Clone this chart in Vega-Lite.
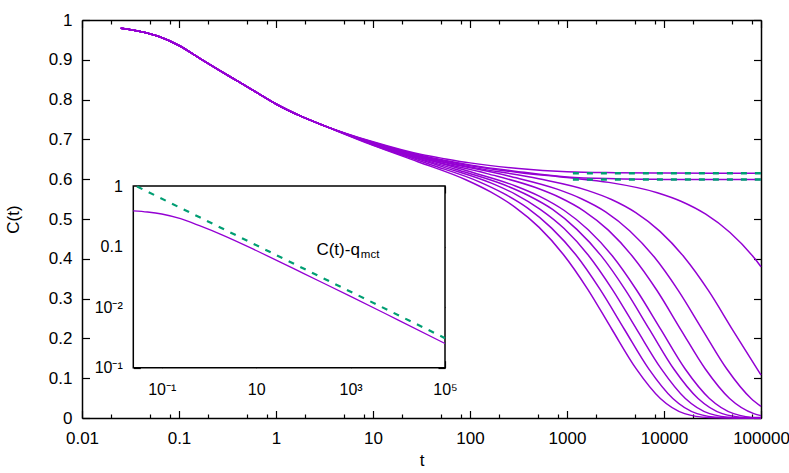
{
  "$schema": "https://vega.github.io/schema/vega-lite/v6.json",
  "width": 679,
  "height": 398,
  "autosize": {"type": "none"},
  "padding": {"left": 82, "top": 20, "right": 28, "bottom": 55},
  "background": "white",
  "config": {
    "view": {"stroke": null},
    "axis": {"grid": false, "labelFont": "Liberation Sans", "titleFont": "Liberation Sans", "labelFontSize": 17, "titleFontSize": 17, "titleFontWeight": "normal", "labelColor": "#000", "titleColor": "#000", "domainColor": "#000", "tickColor": "#000", "domainWidth": 1.5, "tickWidth": 1.2, "labelFlush": false, "labelOverlap": false, "zindex": 1},
    "text": {"font": "Liberation Sans"}
  },
  "datasets": {
    "main": [
      {"s":"c1","t":0.0251,"C":0.979},{"s":"c1","t":0.0398,"C":0.971},{"s":"c1","t":0.0631,"C":0.958},{"s":"c1","t":0.1,"C":0.936},{"s":"c1","t":0.158,"C":0.906},{"s":"c1","t":0.251,"C":0.876},{"s":"c1","t":0.398,"C":0.847},{"s":"c1","t":0.631,"C":0.818},{"s":"c1","t":1,"C":0.789},{"s":"c1","t":1.778,"C":0.759},{"s":"c1","t":3.162,"C":0.734},
      {"s":"c1","t":10,"C":0.685},{"s":"c1","t":29,"C":0.644},{"s":"c1","t":91.7,"C":0.598},{"s":"c1","t":163,"C":0.568},{"s":"c1","t":290,"C":0.530},{"s":"c1","t":516,"C":0.479},{"s":"c1","t":917,"C":0.411},{"s":"c1","t":1631,"C":0.324},{"s":"c1","t":2900,"C":0.223},{"s":"c1","t":5157,"C":0.124},{"s":"c1","t":9170,"C":0.049},{"s":"c1","t":16307,"C":0.011},{"s":"c1","t":29000,"C":0.001},{"s":"c1","t":51570,"C":0},{"s":"c1","t":100000,"C":0},
      {"s":"c2","t":0.0251,"C":0.979},{"s":"c2","t":0.0398,"C":0.971},{"s":"c2","t":0.0631,"C":0.958},{"s":"c2","t":0.1,"C":0.936},{"s":"c2","t":0.158,"C":0.906},{"s":"c2","t":0.251,"C":0.876},{"s":"c2","t":0.398,"C":0.847},{"s":"c2","t":0.631,"C":0.818},{"s":"c2","t":1,"C":0.789},{"s":"c2","t":1.778,"C":0.759},{"s":"c2","t":3.162,"C":0.734},
      {"s":"c2","t":10,"C":0.686},{"s":"c2","t":39,"C":0.637},{"s":"c2","t":123,"C":0.594},{"s":"c2","t":219,"C":0.565},{"s":"c2","t":390,"C":0.528},{"s":"c2","t":694,"C":0.477},{"s":"c2","t":1233,"C":0.410},{"s":"c2","t":2193,"C":0.323},{"s":"c2","t":3900,"C":0.223},{"s":"c2","t":6935,"C":0.124},{"s":"c2","t":12333,"C":0.049},{"s":"c2","t":21930,"C":0.011},{"s":"c2","t":39000,"C":0.001},{"s":"c2","t":69350,"C":0},{"s":"c2","t":100000,"C":0},
      {"s":"c3","t":0.0251,"C":0.979},{"s":"c3","t":0.0398,"C":0.971},{"s":"c3","t":0.0631,"C":0.958},{"s":"c3","t":0.1,"C":0.936},{"s":"c3","t":0.158,"C":0.906},{"s":"c3","t":0.251,"C":0.876},{"s":"c3","t":0.398,"C":0.847},{"s":"c3","t":0.631,"C":0.818},{"s":"c3","t":1,"C":0.789},{"s":"c3","t":1.778,"C":0.759},{"s":"c3","t":3.162,"C":0.734},
      {"s":"c3","t":10,"C":0.687},{"s":"c3","t":52.5,"C":0.631},{"s":"c3","t":166,"C":0.590},{"s":"c3","t":295,"C":0.562},{"s":"c3","t":525,"C":0.525},{"s":"c3","t":934,"C":0.476},{"s":"c3","t":1660,"C":0.409},{"s":"c3","t":2952,"C":0.322},{"s":"c3","t":5250,"C":0.222},{"s":"c3","t":9336,"C":0.124},{"s":"c3","t":16600,"C":0.049},{"s":"c3","t":29520,"C":0.011},{"s":"c3","t":52500,"C":0.001},{"s":"c3","t":100000,"C":0},
      {"s":"c4","t":0.0251,"C":0.979},{"s":"c4","t":0.0398,"C":0.971},{"s":"c4","t":0.0631,"C":0.958},{"s":"c4","t":0.1,"C":0.936},{"s":"c4","t":0.158,"C":0.906},{"s":"c4","t":0.251,"C":0.876},{"s":"c4","t":0.398,"C":0.847},{"s":"c4","t":0.631,"C":0.818},{"s":"c4","t":1,"C":0.789},{"s":"c4","t":1.778,"C":0.759},{"s":"c4","t":3.162,"C":0.734},
      {"s":"c4","t":10,"C":0.688},{"s":"c4","t":71,"C":0.625},{"s":"c4","t":224.5,"C":0.586},{"s":"c4","t":399,"C":0.559},{"s":"c4","t":710,"C":0.524},{"s":"c4","t":1263,"C":0.474},{"s":"c4","t":2245,"C":0.408},{"s":"c4","t":3993,"C":0.322},{"s":"c4","t":7100,"C":0.222},{"s":"c4","t":12626,"C":0.123},{"s":"c4","t":22452,"C":0.049},{"s":"c4","t":39925,"C":0.011},{"s":"c4","t":71000,"C":0.001},{"s":"c4","t":100000,"C":0},
      {"s":"c5","t":0.0251,"C":0.979},{"s":"c5","t":0.0398,"C":0.971},{"s":"c5","t":0.0631,"C":0.958},{"s":"c5","t":0.1,"C":0.936},{"s":"c5","t":0.158,"C":0.906},{"s":"c5","t":0.251,"C":0.876},{"s":"c5","t":0.398,"C":0.847},{"s":"c5","t":0.631,"C":0.818},{"s":"c5","t":1,"C":0.789},{"s":"c5","t":1.778,"C":0.759},{"s":"c5","t":3.162,"C":0.734},
      {"s":"c5","t":10,"C":0.689},{"s":"c5","t":93,"C":0.621},{"s":"c5","t":294,"C":0.583},{"s":"c5","t":523,"C":0.557},{"s":"c5","t":930,"C":0.522},{"s":"c5","t":1654,"C":0.473},{"s":"c5","t":2941,"C":0.407},{"s":"c5","t":5230,"C":0.321},{"s":"c5","t":9300,"C":0.222},{"s":"c5","t":16538,"C":0.123},{"s":"c5","t":29409,"C":0.049},{"s":"c5","t":52296,"C":0.011},{"s":"c5","t":93000,"C":0.001},{"s":"c5","t":100000,"C":0.001},
      {"s":"c6","t":0.0251,"C":0.979},{"s":"c6","t":0.0398,"C":0.971},{"s":"c6","t":0.0631,"C":0.958},{"s":"c6","t":0.1,"C":0.936},{"s":"c6","t":0.158,"C":0.906},{"s":"c6","t":0.251,"C":0.876},{"s":"c6","t":0.398,"C":0.847},{"s":"c6","t":0.631,"C":0.818},{"s":"c6","t":1,"C":0.789},{"s":"c6","t":1.778,"C":0.759},{"s":"c6","t":3.162,"C":0.734},
      {"s":"c6","t":10,"C":0.690},{"s":"c6","t":31.6,"C":0.653},{"s":"c6","t":150,"C":0.614},{"s":"c6","t":474,"C":0.579},{"s":"c6","t":843,"C":0.554},{"s":"c6","t":1500,"C":0.520},{"s":"c6","t":2667,"C":0.472},{"s":"c6","t":4743,"C":0.406},{"s":"c6","t":8435,"C":0.321},{"s":"c6","t":15000,"C":0.221},{"s":"c6","t":26674,"C":0.123},{"s":"c6","t":47434,"C":0.049},{"s":"c6","t":84350,"C":0.011},{"s":"c6","t":100000,"C":0.006},
      {"s":"c7","t":0.0251,"C":0.979},{"s":"c7","t":0.0398,"C":0.971},{"s":"c7","t":0.0631,"C":0.958},{"s":"c7","t":0.1,"C":0.936},{"s":"c7","t":0.158,"C":0.906},{"s":"c7","t":0.251,"C":0.876},{"s":"c7","t":0.398,"C":0.847},{"s":"c7","t":0.631,"C":0.818},{"s":"c7","t":1,"C":0.789},{"s":"c7","t":1.778,"C":0.759},{"s":"c7","t":3.162,"C":0.734},
      {"s":"c7","t":10,"C":0.691},{"s":"c7","t":31.6,"C":0.655},{"s":"c7","t":250,"C":0.608},{"s":"c7","t":791,"C":0.575},{"s":"c7","t":1406,"C":0.551},{"s":"c7","t":2500,"C":0.518},{"s":"c7","t":4446,"C":0.470},{"s":"c7","t":7906,"C":0.405},{"s":"c7","t":14058,"C":0.320},{"s":"c7","t":25000,"C":0.221},{"s":"c7","t":44457,"C":0.123},{"s":"c7","t":79057,"C":0.049},{"s":"c7","t":100000,"C":0.029},
      {"s":"c8","t":0.0251,"C":0.979},{"s":"c8","t":0.0398,"C":0.971},{"s":"c8","t":0.0631,"C":0.958},{"s":"c8","t":0.1,"C":0.936},{"s":"c8","t":0.158,"C":0.906},{"s":"c8","t":0.251,"C":0.876},{"s":"c8","t":0.398,"C":0.847},{"s":"c8","t":0.631,"C":0.818},{"s":"c8","t":1,"C":0.789},{"s":"c8","t":1.778,"C":0.759},{"s":"c8","t":3.162,"C":0.734},
      {"s":"c8","t":10,"C":0.691},{"s":"c8","t":31.6,"C":0.656},{"s":"c8","t":100,"C":0.631},{"s":"c8","t":512,"C":0.601},{"s":"c8","t":1617,"C":0.572},{"s":"c8","t":2877,"C":0.549},{"s":"c8","t":5115,"C":0.516},{"s":"c8","t":9095,"C":0.469},{"s":"c8","t":16175,"C":0.404},{"s":"c8","t":28763,"C":0.320},{"s":"c8","t":51150,"C":0.221},{"s":"c8","t":100000,"C":0.108},
      {"s":"c9","t":0.0251,"C":0.979},{"s":"c9","t":0.0398,"C":0.971},{"s":"c9","t":0.0631,"C":0.958},{"s":"c9","t":0.1,"C":0.936},{"s":"c9","t":0.158,"C":0.906},{"s":"c9","t":0.251,"C":0.876},{"s":"c9","t":0.398,"C":0.847},{"s":"c9","t":0.631,"C":0.818},{"s":"c9","t":1,"C":0.789},{"s":"c9","t":1.778,"C":0.759},{"s":"c9","t":3.162,"C":0.734},
      {"s":"c9","t":10,"C":0.692},{"s":"c9","t":31.6,"C":0.6575},{"s":"c9","t":100,"C":0.634},{"s":"c9","t":316,"C":0.617},{"s":"c9","t":1000,"C":0.604},{"s":"c9","t":2695,"C":0.592},{"s":"c9","t":8523,"C":0.566},{"s":"c9","t":15155,"C":0.544},{"s":"c9","t":26950,"C":0.512},{"s":"c9","t":47924,"C":0.466},{"s":"c9","t":85224,"C":0.402},{"s":"c9","t":100000,"C":0.380},
      {"s":"g1","t":0.0251,"C":0.979},{"s":"g1","t":0.0398,"C":0.971},{"s":"g1","t":0.0631,"C":0.958},{"s":"g1","t":0.1,"C":0.936},{"s":"g1","t":0.158,"C":0.906},{"s":"g1","t":0.251,"C":0.876},{"s":"g1","t":0.398,"C":0.847},{"s":"g1","t":0.631,"C":0.818},{"s":"g1","t":1,"C":0.789},{"s":"g1","t":1.778,"C":0.759},{"s":"g1","t":3.162,"C":0.734},
      {"s":"g1","t":10,"C":0.694},{"s":"g1","t":31.6,"C":0.662},{"s":"g1","t":56.2,"C":0.651},{"s":"g1","t":100,"C":0.641},{"s":"g1","t":316,"C":0.627},{"s":"g1","t":1000,"C":0.619},{"s":"g1","t":3162,"C":0.6165},{"s":"g1","t":10000,"C":0.6155},{"s":"g1","t":31623,"C":0.615},{"s":"g1","t":100000,"C":0.615},
      {"s":"g2","t":0.0251,"C":0.979},{"s":"g2","t":0.0398,"C":0.971},{"s":"g2","t":0.0631,"C":0.958},{"s":"g2","t":0.1,"C":0.936},{"s":"g2","t":0.158,"C":0.906},{"s":"g2","t":0.251,"C":0.876},{"s":"g2","t":0.398,"C":0.847},{"s":"g2","t":0.631,"C":0.818},{"s":"g2","t":1,"C":0.789},{"s":"g2","t":1.778,"C":0.759},{"s":"g2","t":3.162,"C":0.734},
      {"s":"g2","t":10,"C":0.693},{"s":"g2","t":31.6,"C":0.6595},{"s":"g2","t":56.2,"C":0.647},{"s":"g2","t":100,"C":0.636},{"s":"g2","t":316,"C":0.619},{"s":"g2","t":1000,"C":0.6055},{"s":"g2","t":3162,"C":0.601},{"s":"g2","t":10000,"C":0.5995},{"s":"g2","t":31623,"C":0.599},{"s":"g2","t":100000,"C":0.599}
    ],
    "dash": [
      {"s":"a","t":1150,"C":0.615},{"s":"a","t":100000,"C":0.615},
      {"s":"b","t":1150,"C":0.599},{"s":"b","t":100000,"C":0.599}
    ],
    "box": [{"x1":0.025,"x2":100000,"y1":0.001,"y2":1}],
    "ins": [
      {"t":0.025,"C":0.389},{"t":0.0501,"C":0.372},{"t":0.1,"C":0.345},{"t":0.251,"C":0.288},{"t":0.631,"C":0.221},{"t":2.0,"C":0.1531},{"t":10,"C":0.0861},{"t":31.6,"C":0.0560},{"t":100,"C":0.0361},{"t":1000,"C":0.0151},{"t":10000,"C":0.00617},{"t":100000,"C":0.00251}
    ],
    "insd": [
      {"t":0.03,"C":0.982},{"t":100000,"C":0.00307}
    ]
  },
  "layer": [
    {
      "data": {"name": "main"},
      "mark": {"type": "line", "color": "#9400D3", "strokeWidth": 1.5, "interpolate": "monotone"},
      "encoding": {
        "x": {"field": "t", "type": "quantitative",
          "scale": {"type": "log", "domain": [0.01, 100000], "nice": false},
          "axis": {"orient": "bottom", "title": "t", "format": "~g",
            "values": [0.01,0.02,0.05,0.08,0.1,0.2,0.5,0.8,1,2,5,8,10,20,50,80,100,200,500,800,1000,2000,5000,8000,10000,20000,50000,80000,100000],
            "labelExpr": "abs(log(datum.value)/LN10 - round(log(datum.value)/LN10)) < 0.001 ? datum.label : ''",
            "tickSize": {"condition": {"test": "abs(log(datum.value)/LN10 - round(log(datum.value)/LN10)) < 0.001", "value": -7.5}, "value": -4},
            "labelPadding": 19.5, "titlePadding": 3}},
        "y": {"field": "C", "type": "quantitative",
          "scale": {"domain": [0, 1], "nice": false, "zero": false},
          "axis": {"orient": "left", "title": "C(t)", "format": "~g",
            "values": [0,0.1,0.2,0.3,0.4,0.5,0.6,0.7,0.8,0.9,1],
            "tickSize": -7.5, "labelPadding": 17.5, "titlePadding": 26}},
        "detail": {"field": "s"}
      }
    },
    {
      "data": {"name": "dash"},
      "mark": {"type": "line", "color": "#009E73", "strokeWidth": 2.5, "strokeDash": [6, 8]},
      "encoding": {
        "x": {"field": "t", "type": "quantitative",
          "scale": {"type": "log", "domain": [0.01, 100000], "nice": false},
          "axis": {"orient": "top", "title": null, "labels": false,
            "values": [0.01,0.02,0.05,0.08,0.1,0.2,0.5,0.8,1,2,5,8,10,20,50,80,100,200,500,800,1000,2000,5000,8000,10000,20000,50000,80000,100000],
            "tickSize": {"condition": {"test": "abs(log(datum.value)/LN10 - round(log(datum.value)/LN10)) < 0.001", "value": -7.5}, "value": -4}}},
        "y": {"field": "C", "type": "quantitative",
          "scale": {"domain": [0, 1], "nice": false, "zero": false},
          "axis": {"orient": "right", "title": null, "labels": false,
            "values": [0,0.1,0.2,0.3,0.4,0.5,0.6,0.7,0.8,0.9,1], "tickSize": -7.5}},
        "detail": {"field": "s"}
      }
    },
    {
      "data": {"name": "box"},
      "mark": {"type": "rect", "fill": "white", "stroke": "black", "strokeWidth": 1.5},
      "encoding": {
        "x": {"field": "x1", "type": "quantitative",
          "scale": {"type": "log", "domain": [0.025, 100000], "range": [51.3, 363], "nice": false},
          "axis": {"orient": "bottom", "offset": -50.3, "title": null, "domain": false, "labelFontSize": 16,
            "values": [0.1, 10, 1000, 100000],
            "labelExpr": "datum.value < 1 ? '10⁻¹' : datum.value < 100 ? '10' : datum.value < 10000 ? '10³' : '10⁵'",
            "tickSize": -7, "labelPadding": 21}},
        "x2": {"field": "x2"},
        "y": {"field": "y1", "type": "quantitative",
          "scale": {"type": "log", "domain": [0.001, 1], "range": [347.7, 166], "nice": false},
          "axis": {"orient": "left", "offset": -51.3, "title": null, "domain": false, "labelFontSize": 16,
            "values": [0.001, 0.01, 0.1, 1],
            "labelExpr": "datum.value > 0.5 ? '1' : datum.value > 0.05 ? '0.1' : datum.value > 0.005 ? '10⁻²' : '10⁻¹'",
            "tickSize": -7, "labelPadding": 18}},
        "y2": {"field": "y2"}
      }
    },
    {
      "data": {"name": "ins"},
      "mark": {"type": "line", "color": "#9400D3", "strokeWidth": 1.3, "interpolate": "monotone"},
      "encoding": {
        "x": {"field": "t", "type": "quantitative",
          "scale": {"type": "log", "domain": [0.025, 100000], "range": [51.3, 363], "nice": false},
          "axis": {"orient": "top", "offset": -166, "title": null, "domain": false, "labels": false,
            "values": [0.1, 10, 1000, 100000], "tickSize": -7}},
        "y": {"field": "C", "type": "quantitative",
          "scale": {"type": "log", "domain": [0.001, 1], "range": [347.7, 166], "nice": false},
          "axis": {"orient": "right", "offset": -316, "title": null, "domain": false, "labels": false,
            "values": [0.001, 0.01, 0.1, 1], "tickSize": -7}}
      }
    },
    {
      "data": {"name": "insd"},
      "mark": {"type": "line", "color": "#009E73", "strokeWidth": 2.2, "strokeDash": [6, 7]},
      "encoding": {
        "x": {"field": "t", "type": "quantitative",
          "scale": {"type": "log", "domain": [0.025, 100000], "range": [51.3, 363], "nice": false}, "axis": null},
        "y": {"field": "C", "type": "quantitative",
          "scale": {"type": "log", "domain": [0.001, 1], "range": [347.7, 166], "nice": false}, "axis": null}
      }
    },
    {
      "data": {"values": [{"label": "C(t)-q"}]},
      "mark": {"type": "text", "align": "left", "baseline": "alphabetic", "fontSize": 17, "font": "Liberation Sans", "color": "black"},
      "encoding": {
        "text": {"field": "label"},
        "x": {"datum": 189, "type": "quantitative",
          "scale": {"type": "log", "domain": [0.025, 100000], "range": [51.3, 363], "nice": false}, "axis": null},
        "y": {"datum": 0.0727, "type": "quantitative",
          "scale": {"type": "log", "domain": [0.001, 1], "range": [347.7, 166], "nice": false}, "axis": null}
      }
    },
    {
      "data": {"values": [{"label": "mct"}]},
      "mark": {"type": "text", "align": "left", "baseline": "alphabetic", "fontSize": 11.5, "font": "Liberation Sans", "color": "black"},
      "encoding": {
        "text": {"field": "label"},
        "x": {"datum": 1650, "type": "quantitative",
          "scale": {"type": "log", "domain": [0.025, 100000], "range": [51.3, 363], "nice": false}, "axis": null},
        "y": {"datum": 0.0649, "type": "quantitative",
          "scale": {"type": "log", "domain": [0.001, 1], "range": [347.7, 166], "nice": false}, "axis": null}
      }
    }
  ],
  "resolve": {"scale": {"x": "independent", "y": "independent"}, "axis": {"x": "independent", "y": "independent"}}
}
